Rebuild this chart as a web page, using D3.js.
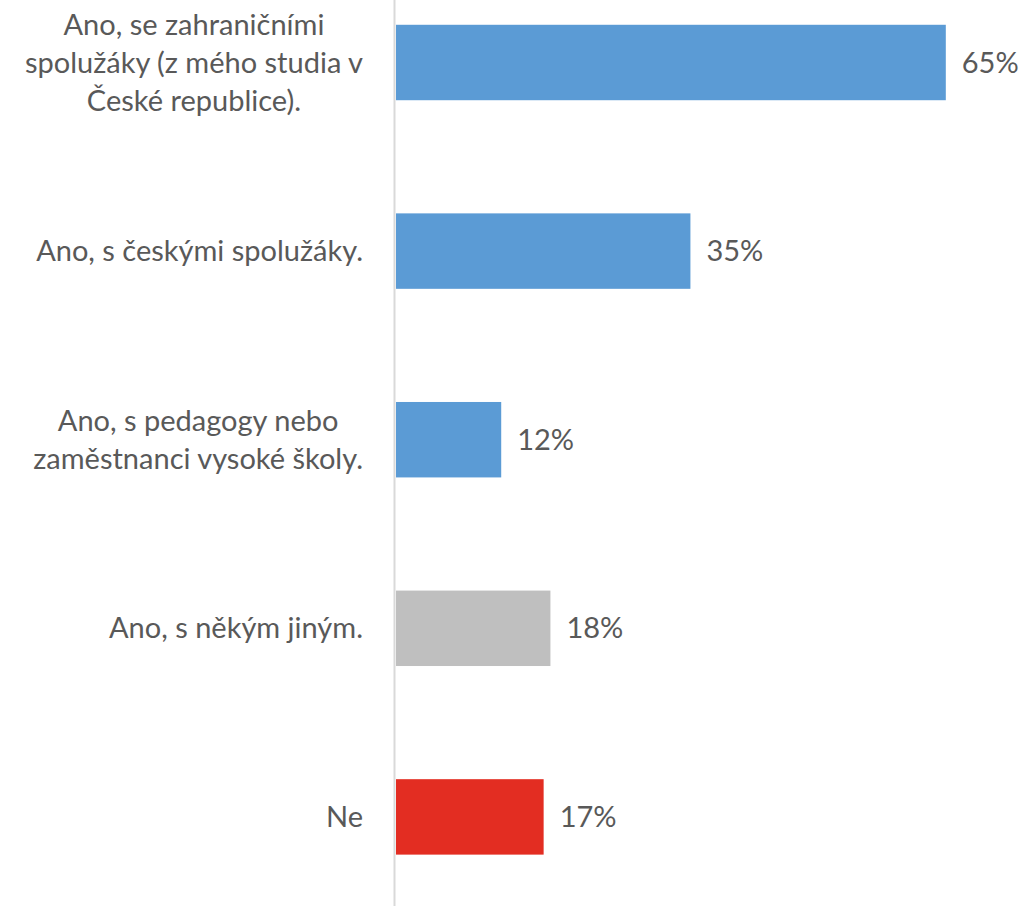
<!DOCTYPE html>
<html><head><meta charset="utf-8">
<script src="https://cdn.jsdelivr.net/npm/d3@7"></script>
<style>
html,body{margin:0;padding:0;background:#fff;}
svg{display:block;}
text{font-family:Lato,"Open Sans",sans-serif;fill:#595959;}
</style></head>
<body>
<svg id="chart" width="1025" height="906"></svg>
<script>
const categories = [
  ["Ano, se zahraničními", "spolužáky (z mého studia v", "České republice)."],
  ["Ano, s českými spolužáky."],
  ["Ano, s pedagogy nebo", "zaměstnanci vysoké školy."],
  ["Ano, s někým jiným."],
  ["Ne"]
];
const values = [64.8, 34.7, 12.4, 18.2, 17.4];
const labels = ["65%", "35%", "12%", "18%", "17%"];
const colors = ["#5B9BD5", "#5B9BD5", "#5B9BD5", "#BFBFBF", "#E32D22"];

const svg = d3.select("#chart");
const W = 1025, H = 906;
const x0 = 396;
const x = d3.scaleLinear().domain([0, 65]).range([x0, x0 + 551.5]);
const y = d3.scaleBand().domain(d3.range(categories.length)).range([-31.8, 911.2]).paddingInner(0.6).paddingOuter(0.3);

svg.selectAll("rect.bar").data(values).enter().append("rect")
  .attr("class","bar")
  .attr("x", x(0))
  .attr("y", (d,i)=>y(i))
  .attr("width", d=>x(d)-x(0))
  .attr("height", y.bandwidth())
  .attr("fill", (d,i)=>colors[i]);

// axis line
svg.append("line").attr("x1",394.5).attr("x2",394.5).attr("y1",0).attr("y2",H)
  .attr("stroke","#D9D9D9").attr("stroke-width",2);

const fs = 29;
svg.selectAll("text.val").data(values).enter().append("text")
  .attr("class","val")
  .attr("x", d=>x(d)+16)
  .attr("y", (d,i)=>y(i)+y.bandwidth()/2)
  .attr("dy","0.35em")
  .style("font-size", fs+"px")
  .text((d,i)=>labels[i]);

const lh = 38;
const right = 363;
categories.forEach((lines,i)=>{
  const cy = y(i)+y.bandwidth()/2;
  const g = svg.append("g");
  const ts = lines.map((l,j)=> g.append("text")
    .style("font-size", fs+"px")
    .attr("text-anchor","middle")
    .attr("y", cy + (j-(lines.length-1)/2)*lh)
    .attr("dy","0.35em")
    .text(l));
  const maxw = d3.max(ts, t=>t.node().getComputedTextLength());
  ts.forEach(t=>t.attr("x", right - maxw/2));
});
</script>
</body></html>
